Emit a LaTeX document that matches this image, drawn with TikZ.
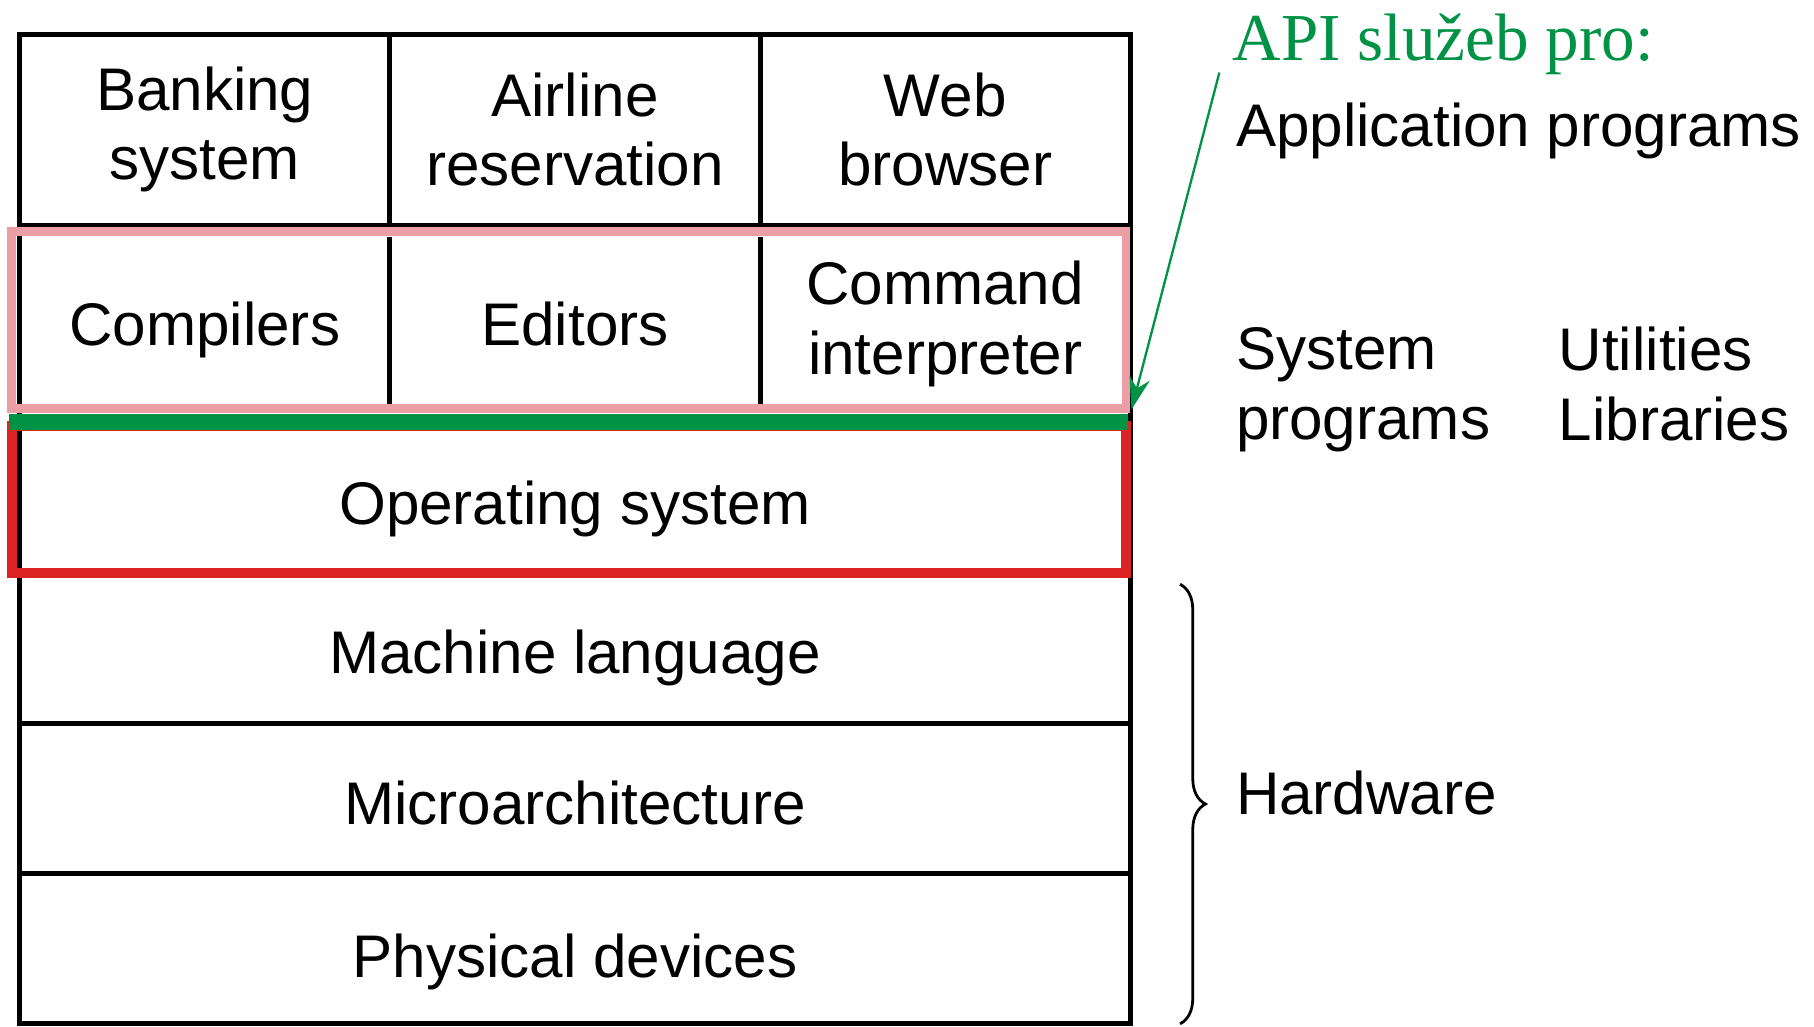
\documentclass[tikz,border=0pt]{standalone}
\usepackage{fontspec}
\setmainfont{Liberation Sans}
\newfontfamily\apifont{Liberation Serif}
\usetikzlibrary{decorations.pathreplacing,arrows.meta}
\definecolor{apigreen}{RGB}{0,146,69}
\definecolor{syspink}{RGB}{235,158,164}
\definecolor{osred}{RGB}{221,34,36}
\tikzset{
  grid/.style={line width=2.2pt,black},
  label/.style={font=\fontsize{26}{30}\selectfont,align=center,inner sep=0pt},
  line/.style={label,anchor=base},
  side/.style={font=\fontsize{26}{30}\selectfont,align=left,anchor=west,inner sep=0pt},
  sideline/.style={side,anchor=base west},
}
\begin{document}
\begin{tikzpicture}[x=0.5pt,y=-0.5pt]
\useasboundingbox (0,0) rectangle (1568,887);
\fill[white] (0,0) rectangle (1568,887);
% layer stack
\draw[grid] (17,30) rectangle (977,885);
\draw[grid] (17,195) -- (977,195);
\draw[grid] (17,625) -- (977,625);
\draw[grid] (17,755) -- (977,755);
\draw[grid] (337,30) -- (337,195);
\draw[grid] (657,30) -- (657,195);
\draw[grid] (337,205) -- (337,352);
\draw[grid] (657,205) -- (657,352);
% highlighted groups
\draw[syspink,line width=3.6pt] (10,200) rectangle (973,353);
\draw[osred,line width=4.3pt] (10,368) rectangle (973,495);
\draw[apigreen,line width=7pt] (8,365) -- (975,365);
% cell texts
\node[label] (bank) at (177,112) {Banking\\system};
\node[label] (air) at (497,112) {Airline\\reservation};
\node[label] (web) at (817,112) {Web\\browser};
\node[line] (comp) at (177,299) {Compilers};
\node[line] (edit) at (497,299) {Editors};
\node[label] (cmd) at (817,280) {Command\\interpreter};
\node[line] (os) at (497,453) {Operating system};
\node[line] (ml) at (497,582) {Machine language};
\node[line] (ma) at (497,713) {Microarchitecture};
\node[line] (pd) at (497,845) {Physical devices};
% side labels
\node[sideline,text=apigreen,font=\apifont\fontsize{29}{34}\selectfont] (api) at (1065,52) {API služeb pro:};
\node[sideline] (app) at (1068,127) {Application programs};
\node[side] (sys) at (1068,337) {System\\programs};
\node[side] (util) at (1347,337) {Utilities\\Libraries\vphantom{g}};
\node[sideline] (hw) at (1068,704) {Hardware};
% hardware brace
\coordinate (bt) at (1020,505);
\coordinate (bb) at (1020,885);
\draw[line width=1.2pt,decorate,decoration={brace,amplitude=11pt}] (bt) -- (bb);
% pointer to the service interface
\coordinate (tip) at (978,354);
\draw[apigreen,line width=1pt,-{Stealth[length=14pt,width=9pt]}] ([xshift=-5.5pt,yshift=1pt]api.south west) -- (tip);
\end{tikzpicture}
\end{document}
